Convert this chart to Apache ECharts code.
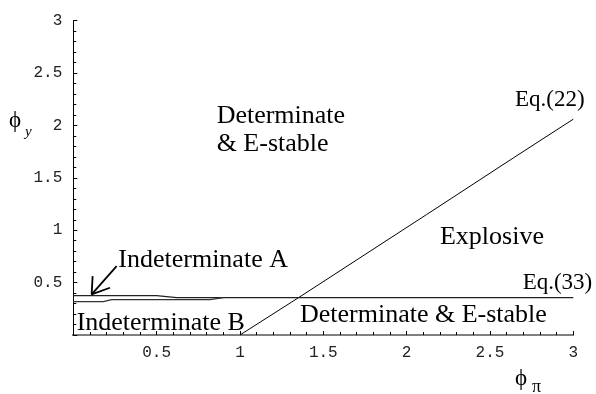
<!DOCTYPE html>
<html>
<head>
<meta charset="utf-8">
<script src="https://cdn.jsdelivr.net/npm/echarts@6/dist/echarts.min.js"></script>
<style>
  html, body { margin: 0; padding: 0; background: #fff; }
  #chart { width: 596px; height: 394px; }
</style>
</head>
<body>
<div id="chart"></div>
<script>
// Stability regions in the (phi_pi, phi_y) plane

// Eq.(22): boundary between determinate and explosive regions
const eq22Pi = [1, 1.36, 2.12, 2.64, 3];
const eq22Y  = [0, 0.365, 1.15, 1.69, 2.06];

// Eq.(33) with the upper edge of indeterminate region A
const eq33Pi = [0, 0.5, 0.62, 3];
const eq33Y  = [0.375, 0.375, 0.356, 0.356];

// lower edge of the thin indeterminate band
const bandLowPi = [0, 0.18, 0.23, 0.82, 0.9];
const bandLowY  = [0.318, 0.318, 0.337, 0.337, 0.356];

// pointer to indeterminate region A
const arrowPi = [0.26, 0.11];
const arrowY  = [0.657, 0.388];
const arrowHeadPi = [0.116, 0.11, 0.22];
const arrowHeadY  = [0.562, 0.388, 0.451];

// horizontal axis line, running a little past both ends of the plot range
const xAxisLinePi = [-0.074, 3.07];

// tick labels
const xTickValues = [0.5, 1, 1.5, 2, 2.5, 3];
const xTickLabels = ['0.5', '1', '1.5', '2', '2.5', '3'];
const yTickValues = [0.5, 1, 1.5, 2, 2.5, 3];
const yTickLabels = ['0.5', '1', '1.5', '2', '2.5', '3'];

// region names: text, phi_pi anchor, phi_y anchor, kind
const regionText = ['Determinate', '& E-stable', 'Explosive', 'Determinate & E-stable',
                    'Indeterminate A', 'Indeterminate B', 'Eq.(22)', 'Eq.(33)'];
const regionPi   = [0.86, 0.86, 2.2, 1.36, 0.27, 0.02, 2.65, 2.696];
const regionY    = [2.085, 1.818, 0.933, 0.187, 0.718, 0.114, 2.239, 0.496];
const regionKind = ['big', 'big', 'big', 'big', 'big', 'big', 'eq', 'eq'];

const zip = (a, b) => a.map((v, i) => [v, b[i]]);

const serif = '"Liberation Serif", "Times New Roman", serif';
const mono = '"Liberation Mono", "Courier New", monospace';
const ink = '#000';

const chart = echarts.init(document.getElementById('chart'), null, { renderer: 'canvas' });

chart.setOption({
  animation: false,
  backgroundColor: '#fff',
  grid: { left: 73.3, right: 22.7, top: 20.7, bottom: 59, containLabel: false },
  xAxis: {
    type: 'value', min: 0, max: 3, interval: 0.5,
    axisLine: { show: false },
    axisTick: { show: true, inside: true, length: 4, lineStyle: { color: ink } },
    minorTick: { show: true, splitNumber: 5, length: 3, lineStyle: { color: ink } },
    splitLine: { show: false },
    axisLabel: {
      customValues: xTickValues,
      formatter: v => xTickLabels[xTickValues.indexOf(v)] || '',
      fontFamily: mono, fontSize: 16, color: '#222', margin: 10
    }
  },
  yAxis: {
    type: 'value', min: 0, max: 3, interval: 0.5,
    axisLine: { show: true, lineStyle: { color: ink, width: 1 } },
    axisTick: { show: true, inside: true, length: 4, lineStyle: { color: ink } },
    minorTick: { show: true, splitNumber: 5, length: 3, lineStyle: { color: ink } },
    splitLine: { show: false },
    axisLabel: {
      customValues: yTickValues,
      formatter: v => yTickLabels[yTickValues.indexOf(v)] || '',
      fontFamily: mono, fontSize: 16, color: '#222', margin: 11
    }
  },
  series: [
    {
      name: 'axis', type: 'line', clip: false, symbol: 'none',
      data: zip(xAxisLinePi, [0, 0]),
      lineStyle: { color: ink, width: 1 }, silent: true
    },
    {
      name: 'Eq.(22)', type: 'line', symbol: 'none',
      data: zip(eq22Pi, eq22Y), lineStyle: { color: ink, width: 1 }
    },
    {
      name: 'Eq.(33)', type: 'line', symbol: 'none',
      data: zip(eq33Pi, eq33Y), lineStyle: { color: '#222', width: 1.2 }
    },
    {
      name: 'band', type: 'line', symbol: 'none',
      data: zip(bandLowPi, bandLowY), lineStyle: { color: '#333', width: 1.2 }
    },
    {
      name: 'arrow', type: 'line', symbol: 'none',
      data: zip(arrowPi, arrowY), lineStyle: { color: ink, width: 1.8 }
    },
    {
      name: 'arrowHead', type: 'line', symbol: 'none',
      data: zip(arrowHeadPi, arrowHeadY), lineStyle: { color: ink, width: 1.8 }
    },
    {
      name: 'labels', type: 'scatter', clip: false, symbolSize: 0, silent: true,
      itemStyle: { opacity: 1 },
      data: regionText.map((t, i) => ({
        value: [regionPi[i], regionY[i]],
        label: {
          show: true, position: 'right', distance: 0, opacity: 1,
          formatter: t,
          fontFamily: serif, color: ink,
          fontSize: regionKind[i] === 'eq' ? 23 : 26
        }
      }))
    }
  ],
  graphic: [
    { type: 'text', x: 9, y: 121, style: { text: 'ϕ', font: '23px ' + serif, fill: ink, verticalAlign: 'middle' } },
    { type: 'text', x: 25, y: 132, style: { text: 'y', font: 'italic 15px ' + serif, fill: ink, verticalAlign: 'middle' } },
    { type: 'text', x: 515, y: 379, style: { text: 'ϕ', font: '23px ' + serif, fill: ink, verticalAlign: 'middle' } },
    { type: 'text', x: 532, y: 387, style: { text: 'π', font: '18px ' + serif, fill: ink, verticalAlign: 'middle' } }
  ]
});
</script>
</body>
</html>
